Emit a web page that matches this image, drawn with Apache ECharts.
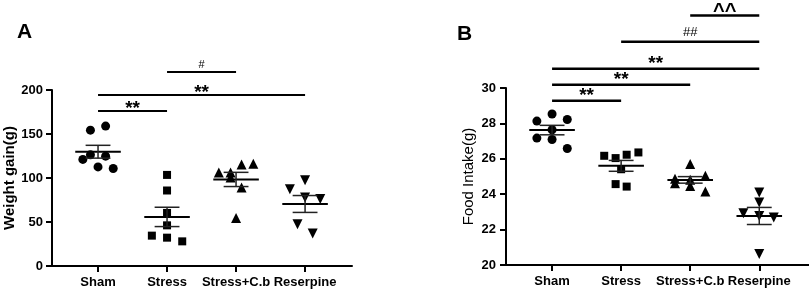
<!DOCTYPE html>
<html>
<head>
<meta charset="utf-8">
<script src="https://cdn.jsdelivr.net/npm/echarts@6/dist/echarts.min.js"></script>
<style>
  html, body { margin: 0; padding: 0; background: #fff; }
  #chart { width: 809px; height: 292px; }
</style>
</head>
<body>
<div id="chart"></div>
<script>
// groups on the x axis
var groups = ['Sham', 'Stress', 'Stress+C.b', 'Reserpine'];

// A - weight gain (g)
var weightSham = [154.4, 159.0, 121.1, 126.3, 124.8, 112.6, 110.8];
var weightStress = [103.5, 85.8, 60.3, 46.2, 34.5, 32.2, 28.0];
var weightCb = [106.3, 106.3, 115.4, 116.1, 100.6, 89.2, 54.6];
var weightReserpine = [87.2, 97.5, 77.8, 76.2, 47.4, 36.8];
var weightTicks = [0, 50, 100, 150, 200];

// B - food intake (g)
var foodSham = [28.13, 28.53, 28.22, 27.17, 27.64, 27.09, 26.58];
var foodStress = [26.17, 26.04, 26.23, 26.36, 25.41, 24.57, 24.43];
var foodCb = [25.70, 24.87, 24.62, 25.04, 24.81, 24.47, 24.15];
var foodReserpine = [24.09, 23.53, 22.93, 22.77, 22.68, 20.62];
var foodTicks = [20, 22, 24, 26, 28, 30];

// significance brackets: [from group, to group, height in y units]
var weightSigPairs = [[0, 1, 176], [0, 3, 194.3], [1, 2, 220.4]];
var weightSigLabels = ['**', '**', '#'];
var foodSigPairs = [[0, 1, 29.28], [0, 2, 30.19], [0, 3, 31.09], [1, 3, 32.62], [2, 3, 34.09]];
var foodSigLabels = ['**', '**', '**', '##', '^^'];

// horizontal spread of the dots inside each group (group units)
var weightSpread = [
  [-0.11, 0.11, -0.22, -0.11, 0.11, 0, 0.22],
  [0, 0, 0, 0, -0.22, 0, 0.22],
  [-0.25, -0.08, 0.08, 0.25, -0.08, 0.08, 0],
  [-0.22, 0, 0, 0.22, -0.11, 0.11]
];
var foodSpread = [
  [-0.22, 0, 0.22, -0.22, 0, 0, 0.22],
  [-0.245, -0.08, 0.08, 0.25, 0, -0.08, 0.08],
  [0, -0.22, -0.22, 0.22, 0, 0, 0.22],
  [0, 0, -0.23, 0, 0.21, 0]
];

var weightGroups = [weightSham, weightStress, weightCb, weightReserpine];
var foodGroups = [foodSham, foodStress, foodCb, foodReserpine];

var symbols = ['circle', 'rect', 'triangle', 'triangle'];
var symbolRotations = [0, 0, 0, 180];
var symbolSizes = [9, 8, 10, 10];
var FONT = '"Liberation Sans", Arial, sans-serif';

function meanSem(arr) {
  var n = arr.length;
  var m = arr.reduce(function (a, b) { return a + b; }, 0) / n;
  var v = arr.reduce(function (a, b) { return a + (b - m) * (b - m); }, 0) / (n - 1);
  return [m, Math.sqrt(v / n)];
}

function renderErr(params, api) {
  var i = api.value(0), m = api.value(1), s = api.value(2);
  var c = api.coord([i, m]);
  var hi = api.coord([i, m + s]);
  var lo = api.coord([i, m - s]);
  var unit = api.size([1, 0])[0];
  var w1 = unit * 0.33, w2 = unit * 0.18;
  var st = { stroke: '#000', lineWidth: 2 };
  var st2 = { stroke: '#222', lineWidth: 1.5 };
  return {
    type: 'group',
    children: [
      { type: 'line', shape: { x1: c[0] - w1, y1: c[1], x2: c[0] + w1, y2: c[1] }, style: st },
      { type: 'line', shape: { x1: hi[0], y1: hi[1], x2: lo[0], y2: lo[1] }, style: st2 },
      { type: 'line', shape: { x1: hi[0] - w2, y1: hi[1], x2: hi[0] + w2, y2: hi[1] }, style: st2 },
      { type: 'line', shape: { x1: lo[0] - w2, y1: lo[1], x2: lo[0] + w2, y2: lo[1] }, style: st2 }
    ]
  };
}

var labelStyles = {
  '**': { font: 'bold 19px ' + FONT, dy: -2 },
  '#': { font: '11px ' + FONT, dy: -7.5 },
  '##': { font: '13px ' + FONT, dy: -9 },
  '^^': { font: 'bold 20px ' + FONT, dy: -4 }
};

function makeSigRender(labels, lineWidth, starDy) {
  return function (params, api) {
    var y = api.value(2);
    var a = api.coord([api.value(0), y]);
    var b = api.coord([api.value(1), y]);
    var lab = labels[params.dataIndex];
    var ls = labelStyles[lab];
    var dy = lab === '**' ? starDy : ls.dy;
    return {
      type: 'group',
      children: [
        { type: 'line', shape: { x1: a[0], y1: a[1], x2: b[0], y2: b[1] }, style: { stroke: '#000', lineWidth: lineWidth } },
        { type: 'text', style: { text: lab, x: (a[0] + b[0]) / 2, y: a[1] + dy, fill: '#000', font: ls.font, textAlign: 'center', textVerticalAlign: 'middle' } }
      ]
    };
  };
}

function xAxisFor(gridIndex, min, max) {
  return {
    type: 'value', gridIndex: gridIndex, min: min, max: max,
    splitLine: { show: false },
    axisLine: { show: true, onZero: false, lineStyle: { color: '#000', width: 2 } },
    axisTick: { show: true, customValues: [0, 1, 2, 3], length: 6, lineStyle: { color: '#000', width: 2 } },
    axisLabel: {
      customValues: [0, 1, 2, 3], margin: 10,
      formatter: function (v) { return groups[Math.round(v)]; },
      color: '#000', fontFamily: FONT, fontWeight: 'bold', fontSize: 13
    }
  };
}

function yAxisFor(gridIndex, ticks, name, bold, gap, margin) {
  return {
    type: 'value', gridIndex: gridIndex,
    min: ticks[0], max: ticks[ticks.length - 1], interval: ticks[1] - ticks[0],
    name: name, nameLocation: 'middle', nameRotate: 90, nameGap: gap,
    nameTextStyle: { color: '#000', fontFamily: FONT, fontSize: 15, fontWeight: bold ? 'bold' : 'normal' },
    splitLine: { show: false },
    axisLine: { show: true, onZero: false, lineStyle: { color: '#000', width: 2 } },
    axisTick: { show: true, length: 6, lineStyle: { color: '#000', width: 2 } },
    axisLabel: { color: '#000', fontFamily: FONT, fontWeight: 'bold', fontSize: 13, margin: margin }
  };
}

var series = [];
function addPanel(gridIndex, data, spread, sigPairs, sigLabels, sigWidth, starDy) {
  data.forEach(function (vals, g) {
    series.push({
      type: 'scatter', xAxisIndex: gridIndex, yAxisIndex: gridIndex,
      symbol: symbols[g], symbolRotate: symbolRotations[g], symbolSize: symbolSizes[g],
      itemStyle: { color: '#000', opacity: 1 },
      data: vals.map(function (v, k) { return [g + spread[g][k], v]; }),
      z: 2
    });
  });
  series.push({
    type: 'custom', xAxisIndex: gridIndex, yAxisIndex: gridIndex,
    renderItem: renderErr, z: 3,
    data: data.map(function (vals, g) { var ms = meanSem(vals); return [g, ms[0], ms[1]]; })
  });
  series.push({
    type: 'custom', xAxisIndex: gridIndex, yAxisIndex: gridIndex, clip: false,
    renderItem: makeSigRender(sigLabels, sigWidth, starDy), z: 4,
    data: sigPairs
  });
}
addPanel(0, weightGroups, weightSpread, weightSigPairs, weightSigLabels, 2, -2);
addPanel(1, foodGroups, foodSpread, foodSigPairs, foodSigLabels, 2.5, -4.5);

var myChart = echarts.init(document.getElementById('chart'));
var option = {
  backgroundColor: '#fff',
  animation: false,
  title: [
    { text: 'A', left: 12, top: 17, textStyle: { fontFamily: FONT, fontSize: 21, fontWeight: 'bold', color: '#000' } },
    { text: 'B', left: 452, top: 19, textStyle: { fontFamily: FONT, fontSize: 21, fontWeight: 'bold', color: '#000' } }
  ],
  grid: [
    { left: 52, top: 90, width: 300, height: 176 },
    { left: 506, top: 88, width: 304, height: 177 }
  ],
  xAxis: [xAxisFor(0, -0.667, 3.68), xAxisFor(1, -0.667, 3.72)],
  yAxis: [
    yAxisFor(0, weightTicks, 'Weight gain(g)', true, 35, 9),
    yAxisFor(1, foodTicks, 'Food Intake(g)', false, 30, 10)
  ],
  series: series
};
myChart.setOption(option);
</script>
</body>
</html>
